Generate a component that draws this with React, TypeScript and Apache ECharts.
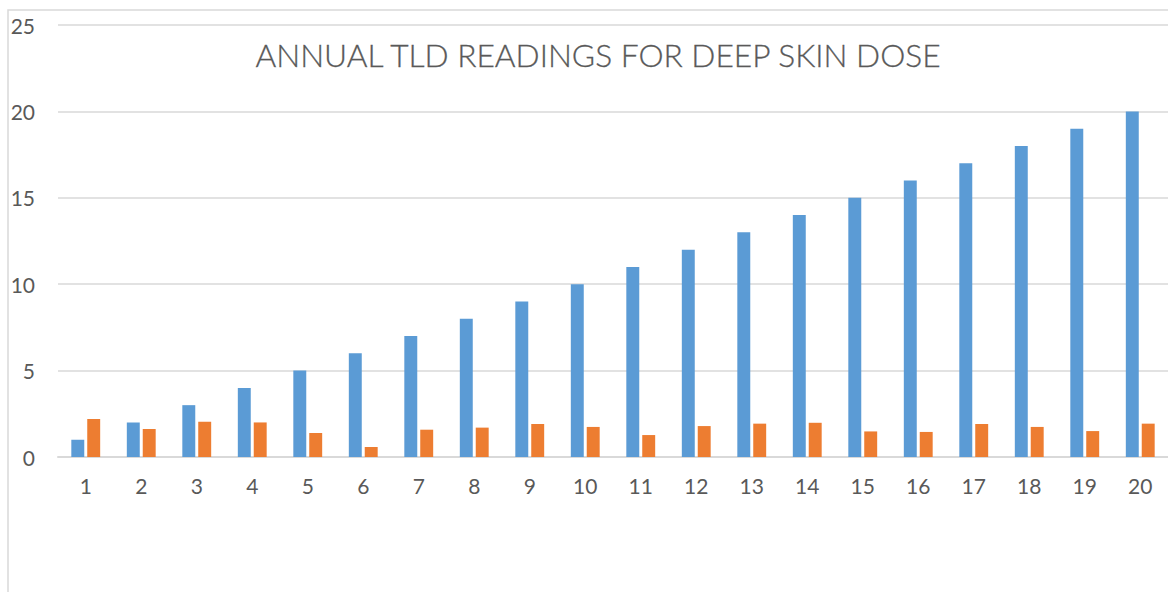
import React, { useEffect, useRef } from "react";
import * as echarts from "echarts";

const categories = ["1","2","3","4","5","6","7","8","9","10","11","12","13","14","15","16","17","18","19","20"];
const seriesA = [1,2,3,4,5,6,7,8,9,10,11,12,13,14,15,16,17,18,19,20];
const seriesB = [2.2,1.62,2.04,2.0,1.39,0.58,1.58,1.7,1.91,1.74,1.27,1.79,1.93,1.98,1.48,1.45,1.91,1.74,1.5,1.93];
const yTicks = { min: 0, max: 25, interval: 5 };
const titleText = "ANNUAL TLD READINGS FOR DEEP SKIN DOSE";

export default function App() {
  const ref = useRef<HTMLDivElement>(null);
  useEffect(() => {
    if (!ref.current) return;
    const chart = echarts.init(ref.current, null, { renderer: "svg" });
    const font = "Lato";
    chart.setOption({
      animation: false,
      backgroundColor: "#ffffff",
      title: {
        text: titleText,
        left: 593,
        textAlign: "center",
        top: 34,
        textStyle: { fontFamily: font, fontWeight: 300, fontSize: 31.7, color: "#595959", textBorderColor: "#595959", textBorderWidth: 0.3 },
      },
      graphic: [
        {
          type: "rect",
          shape: { x: 8, y: 10, width: 1300, height: 700 },
          style: { fill: "none", stroke: "#d9d9d9", lineWidth: 1.5 },
          silent: true,
        },
      ],
      grid: { left: 58, top: 25, width: 1120, height: 432, containLabel: false },
      xAxis: {
        type: "category",
        data: categories,
        axisLine: { lineStyle: { color: "#d9d9d9", width: 2 } },
        axisTick: { show: false },
        axisLabel: { color: "#595959", fontFamily: font, fontSize: 21, margin: 18 },
      },
      yAxis: {
        type: "value",
        min: yTicks.min,
        max: yTicks.max,
        interval: yTicks.interval,
        axisLine: { show: false },
        axisTick: { show: false },
        splitLine: { lineStyle: { color: "#d9d9d9", width: 1.5 } },
        axisLabel: { color: "#595959", fontFamily: font, fontSize: 21, margin: 23 },
      },
      series: [
        {
          type: "bar",
          data: seriesA,
          itemStyle: { color: "#5b9bd5" },
          barGap: "23%",
          barCategoryGap: "48%",
        },
        {
          type: "bar",
          data: seriesB,
          itemStyle: { color: "#ed7d31" },
          barGap: "23%",
          barCategoryGap: "48%",
        },
      ],
    });
    return () => chart.dispose();
  }, []);
  return (
    <div
      ref={ref}
      style={{ position: "fixed", left: 0, top: 0, width: 1168, height: 592 }}
    />
  );
}
